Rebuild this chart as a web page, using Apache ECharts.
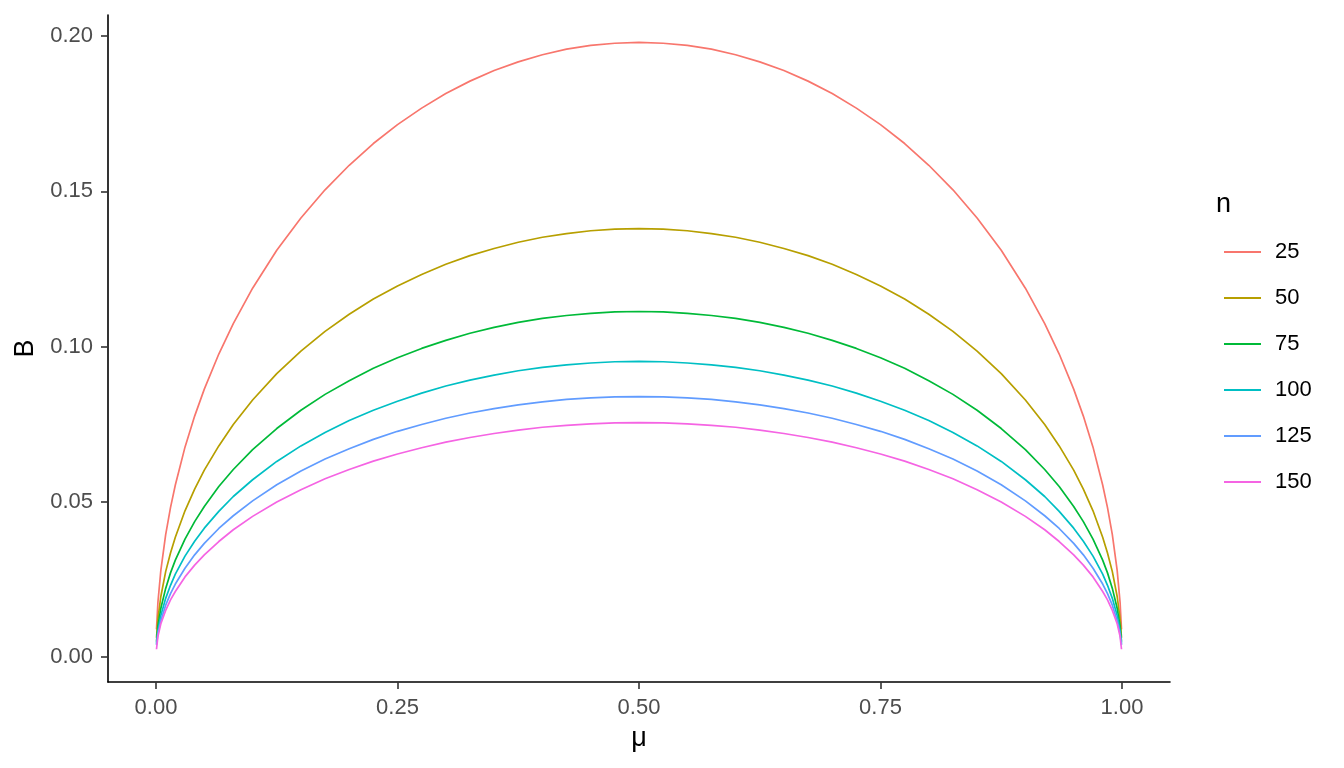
<!DOCTYPE html>
<html>
<head>
<meta charset="utf-8">
<script src="https://cdn.jsdelivr.net/npm/echarts@6/dist/echarts.min.js"></script>
<style>
html,body{margin:0;padding:0;background:#fff;}
#c{width:1344px;height:768px;}
</style>
</head>
<body>
<div id="c"></div>
<script>
const mu = [0.0005, 0.002, 0.005, 0.01, 0.015, 0.02, 0.03, 0.04, 0.05, 0.065, 0.08, 0.1, 0.125, 0.15, 0.175, 0.2, 0.225, 0.25, 0.275, 0.3, 0.325, 0.35, 0.375, 0.4, 0.425, 0.45, 0.475, 0.5,
            0.525, 0.55, 0.575, 0.6, 0.625, 0.65, 0.675, 0.7, 0.725, 0.75, 0.775, 0.8, 0.825, 0.85, 0.875, 0.9, 0.92, 0.935, 0.95, 0.96, 0.97, 0.98, 0.985, 0.99, 0.995, 0.998, 0.9995];
const nLabels = ['25', '50', '75', '100', '125', '150'];
const b25 = [0.0089, 0.0177, 0.0279, 0.0394, 0.0481, 0.0554, 0.0676, 0.0776, 0.0863, 0.0976, 0.1074, 0.1188, 0.1310, 0.1414, 0.1505, 0.1584, 0.1654, 0.1715, 0.1768, 0.1815, 0.1855, 0.1889, 0.1917, 0.1940, 0.1958, 0.1970, 0.1977, 0.1980,
             0.1977, 0.1970, 0.1958, 0.1940, 0.1917, 0.1889, 0.1855, 0.1815, 0.1768, 0.1715, 0.1654, 0.1584, 0.1505, 0.1414, 0.1310, 0.1188, 0.1074, 0.0976, 0.0863, 0.0776, 0.0676, 0.0554, 0.0481, 0.0394, 0.0279, 0.0177, 0.0089];
const b50 = [0.0062, 0.0123, 0.0195, 0.0275, 0.0335, 0.0386, 0.0471, 0.0541, 0.0602, 0.0680, 0.0749, 0.0828, 0.0913, 0.0985, 0.1049, 0.1104, 0.1153, 0.1195, 0.1232, 0.1265, 0.1293, 0.1316, 0.1336, 0.1352, 0.1364, 0.1373, 0.1378, 0.1380,
             0.1378, 0.1373, 0.1364, 0.1352, 0.1336, 0.1316, 0.1293, 0.1265, 0.1232, 0.1195, 0.1153, 0.1104, 0.1049, 0.0985, 0.0913, 0.0828, 0.0749, 0.0680, 0.0602, 0.0541, 0.0471, 0.0386, 0.0335, 0.0275, 0.0195, 0.0123, 0.0062];
const b75 = [0.0050, 0.0100, 0.0157, 0.0221, 0.0271, 0.0312, 0.0380, 0.0436, 0.0485, 0.0549, 0.0604, 0.0668, 0.0736, 0.0795, 0.0846, 0.0890, 0.0930, 0.0964, 0.0994, 0.1020, 0.1043, 0.1062, 0.1078, 0.1091, 0.1100, 0.1107, 0.1112, 0.1113,
             0.1112, 0.1107, 0.1100, 0.1091, 0.1078, 0.1062, 0.1043, 0.1020, 0.0994, 0.0964, 0.0930, 0.0890, 0.0846, 0.0795, 0.0736, 0.0668, 0.0604, 0.0549, 0.0485, 0.0436, 0.0380, 0.0312, 0.0271, 0.0221, 0.0157, 0.0100, 0.0050];
const b100 = [0.0043, 0.0085, 0.0134, 0.0189, 0.0231, 0.0267, 0.0325, 0.0373, 0.0415, 0.0469, 0.0517, 0.0571, 0.0630, 0.0680, 0.0723, 0.0762, 0.0795, 0.0824, 0.0850, 0.0873, 0.0892, 0.0908, 0.0922, 0.0933, 0.0941, 0.0947, 0.0951, 0.0952,
              0.0951, 0.0947, 0.0941, 0.0933, 0.0922, 0.0908, 0.0892, 0.0873, 0.0850, 0.0824, 0.0795, 0.0762, 0.0723, 0.0680, 0.0630, 0.0571, 0.0517, 0.0469, 0.0415, 0.0373, 0.0325, 0.0267, 0.0231, 0.0189, 0.0134, 0.0085, 0.0043];
const b125 = [0.0038, 0.0075, 0.0118, 0.0167, 0.0204, 0.0235, 0.0286, 0.0329, 0.0366, 0.0414, 0.0455, 0.0503, 0.0555, 0.0599, 0.0638, 0.0671, 0.0701, 0.0727, 0.0749, 0.0769, 0.0786, 0.0800, 0.0812, 0.0822, 0.0830, 0.0835, 0.0838, 0.0839,
              0.0838, 0.0835, 0.0830, 0.0822, 0.0812, 0.0800, 0.0786, 0.0769, 0.0749, 0.0727, 0.0701, 0.0671, 0.0638, 0.0599, 0.0555, 0.0503, 0.0455, 0.0414, 0.0366, 0.0329, 0.0286, 0.0235, 0.0204, 0.0167, 0.0118, 0.0075, 0.0038];
const b150 = [0.0025, 0.0067, 0.0107, 0.0150, 0.0184, 0.0211, 0.0258, 0.0296, 0.0329, 0.0372, 0.0410, 0.0453, 0.0499, 0.0539, 0.0574, 0.0604, 0.0631, 0.0654, 0.0674, 0.0692, 0.0707, 0.0720, 0.0731, 0.0740, 0.0746, 0.0751, 0.0754, 0.0755,
              0.0754, 0.0751, 0.0746, 0.0740, 0.0731, 0.0720, 0.0707, 0.0692, 0.0674, 0.0654, 0.0631, 0.0604, 0.0574, 0.0539, 0.0499, 0.0453, 0.0410, 0.0372, 0.0329, 0.0296, 0.0258, 0.0211, 0.0184, 0.0150, 0.0107, 0.0067, 0.0025];
const xTicks = [0, 0.25, 0.5, 0.75, 1];
const yTicks = [0, 0.05, 0.1, 0.15, 0.2];
const colors = ['#F8766D', '#B79F00', '#00BA38', '#00BFC4', '#619CFF', '#F564E3'];

const allB = [b25, b50, b75, b100, b125, b150];
const FONT = '"Liberation Sans", Arial, sans-serif';

const series = allB.map((arr, i) => ({
  name: nLabels[i],
  type: 'line',
  data: mu.map((m, j) => [m, arr[j]]),
  showSymbol: false,
  symbol: 'none',
  smooth: false,
  lineStyle: { color: colors[i], width: 1.7, join: 'round' },
  itemStyle: { color: colors[i] },
  z: 2 + i
}));

const chart = echarts.init(document.getElementById('c'), null, { renderer: 'canvas' });
chart.setOption({
  animation: false,
  backgroundColor: '#ffffff',
  color: colors,
  title: {
    text: 'n', left: 1211, top: 186,
    textStyle: { fontFamily: FONT, fontSize: 27, fontWeight: 'normal', color: '#000' }
  },
  legend: {
    orient: 'vertical', left: 1219, top: 236,
    itemWidth: 37, itemHeight: 20, itemGap: 24,
    icon: 'path://M0,9 L37,9 L37,11 L0,11 Z',
    textStyle: { fontFamily: FONT, fontSize: 22, color: '#000', padding: [0, 0, 0, 9] },
    data: nLabels.map((n, i) => ({ name: n, itemStyle: { color: colors[i] } }))
  },
  grid: { left: 108, top: 15, width: 1062, height: 667, containLabel: false },
  xAxis: {
    type: 'value', min: -0.0497, max: 1.0497,
    name: 'μ', nameLocation: 'middle', nameGap: 43,
    nameTextStyle: { fontFamily: FONT, fontSize: 27, color: '#000' },
    axisLine: { show: true, onZero: false, lineStyle: { color: '#000', width: 1.6 } },
    axisTick: { show: true, customValues: xTicks, length: 7, lineStyle: { color: '#333', width: 1.6 } },
    axisLabel: { customValues: xTicks, margin: 15, fontFamily: FONT, fontSize: 22, color: '#4D4D4D',
                 formatter: v => v.toFixed(2) },
    splitLine: { show: false }
  },
  yAxis: {
    type: 'value', min: -0.00805, max: 0.2068,
    name: 'B', nameLocation: 'middle', nameGap: 64, nameRotate: 90,
    nameTextStyle: { fontFamily: FONT, fontSize: 27, color: '#000' },
    axisLine: { show: true, onZero: false, lineStyle: { color: '#000', width: 1.6 } },
    axisTick: { show: true, customValues: yTicks, length: 7, lineStyle: { color: '#333', width: 1.6 } },
    axisLabel: { customValues: yTicks, margin: 15, fontFamily: FONT, fontSize: 22, color: '#4D4D4D',
                 formatter: v => v.toFixed(2) },
    splitLine: { show: false }
  },
  series: series
});
</script>
</body>
</html>
